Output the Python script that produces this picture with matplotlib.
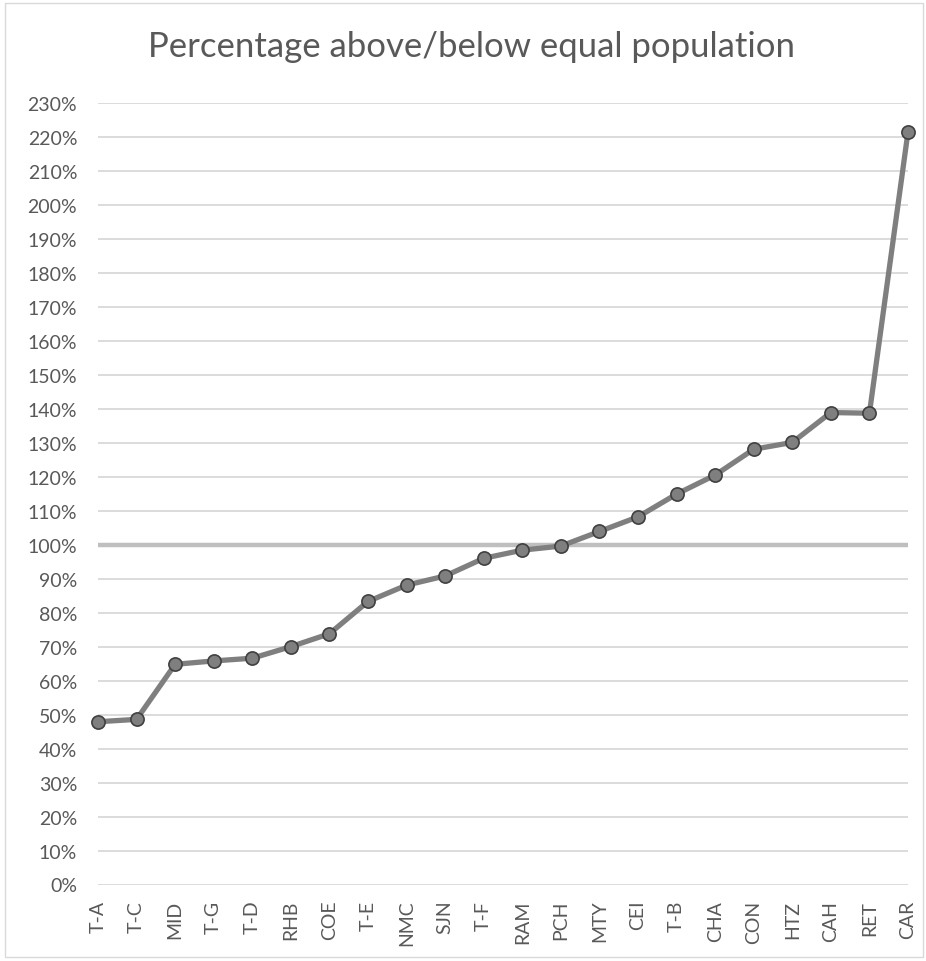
import matplotlib.pyplot as plt
from matplotlib.patches import Rectangle
from matplotlib.ticker import MultipleLocator, FuncFormatter

plt.rcParams['font.family'] = ['Lato', 'DejaVu Sans']

areas = ['T-A', 'T-C', 'MID', 'T-G', 'T-D', 'RHB', 'COE', 'T-E', 'NMC', 'SJN', 'T-F',
         'RAM', 'PCH', 'MTY', 'CEI', 'T-B', 'CHA', 'CON', 'HTZ', 'CAH', 'RET', 'CAR']
pct = [47.9, 48.6, 64.8, 65.8, 66.6, 70.0, 73.8, 83.3, 88.1, 90.8, 96.0,
       98.4, 99.6, 103.9, 108.2, 114.9, 120.5, 128.1, 130.1, 138.9, 138.7, 221.5]
equal_line = 100

txt = '#595959'

fig = plt.figure(figsize=(9.26, 9.62), dpi=100)
ax = fig.add_axes([98 / 926, 1 - 885.5 / 962, 810 / 926, 781.5 / 962])

# light frame around the whole chart
fig.patches.append(Rectangle((5 / 926, 4 / 962), 918 / 926, 954 / 962,
                             transform=fig.transFigure, fill=False,
                             edgecolor='#d9d9d9', linewidth=1))

x = list(range(len(areas)))
ax.axhline(equal_line, color='#bfbfbf', linewidth=3.2, zorder=2)
ax.plot(x, pct, color='#7f7f7f', linewidth=3.8, marker='o', markersize=9.5,
        markerfacecolor='#7f7f7f', markeredgecolor='#404040', markeredgewidth=1.2,
        zorder=3, clip_on=False)

ax.set_xlim(0, len(areas) - 1)
ax.set_ylim(0, 230)
ax.yaxis.set_major_locator(MultipleLocator(10))
ax.yaxis.set_major_formatter(FuncFormatter(lambda v, p: f'{v:.0f}%'))
ax.grid(axis='y', color='#d9d9d9', linewidth=1.3, zorder=1)
ax.set_axisbelow(True)

ax.set_xticks(x)
ax.set_xticklabels(areas, rotation=90)
ax.tick_params(axis='both', length=0, colors=txt, labelsize=14)
ax.tick_params(axis='y', pad=15)
ax.tick_params(axis='x', pad=11)
for s in ax.spines.values():
    s.set_visible(False)

fig.text(0.509, 1 - 57 / 962, 'Percentage above/below equal population',
         ha='center', va='baseline', fontsize=25, color=txt)

fig.savefig('out.png', dpi=100)
